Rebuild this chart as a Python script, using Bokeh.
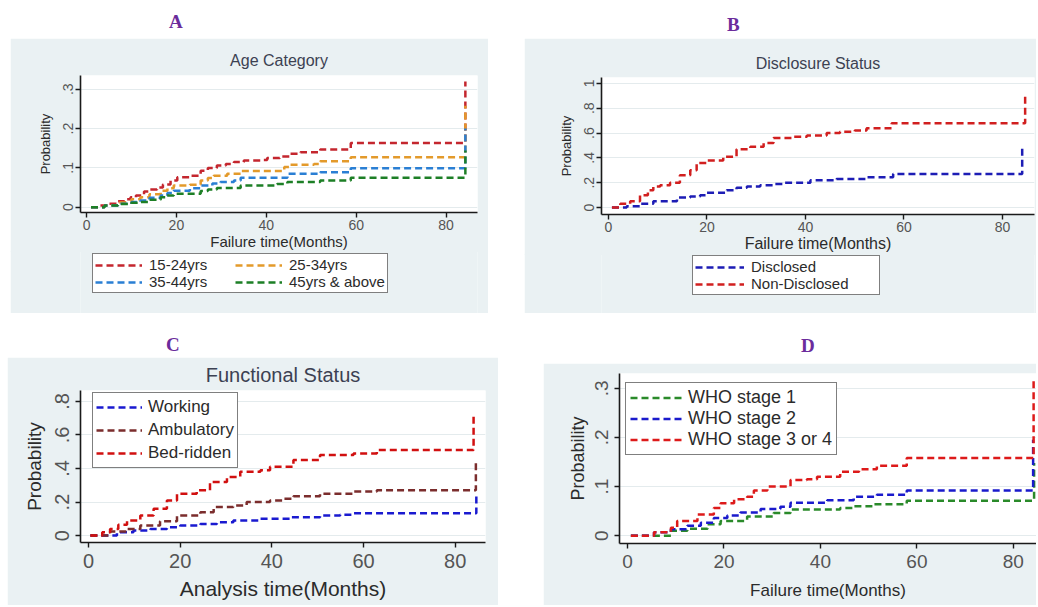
from bokeh.plotting import figure
from bokeh.models import Legend, LegendItem, FixedTicker, Div, Spacer, Range1d
from bokeh.layouts import row, column
from bokeh.embed import file_html
from bokeh.resources import INLINE

# ---------------- data ----------------
# Panel A: Age Category
a_labels = ["15-24yrs", "25-34yrs", "35-44yrs", "45yrs & above"]
a1_t = [1, 3, 5, 7, 8.5, 9.8, 11, 12.8, 14, 15.7, 17, 18.7, 20.2, 23, 25.4, 27, 29, 31, 32.8, 35, 38.7, 40.2, 43, 45.4, 47.6, 52, 58.8, 84.3]
a1_p = [0, .004, .009, .015, .02, .025, .03, .04, .045, .05, .058, .068, .076, .08, .093, .1, .106, .11, .115, .119, .12, .125, .129, .136, .14, .147, .163, .32]
a2_t = [1, 4, 7, 10, 12, 14, 16.5, 18, 19.4, 23, 25.4, 27, 28.3, 31.3, 34.3, 44, 45.4, 50.6, 52, 58.8, 84.3]
a2_p = [0, .005, .012, .02, .025, .033, .042, .048, .055, .057, .068, .074, .08, .085, .092, .102, .108, .11, .117, .127, .258]
a3_t = [1, 4, 7, 10, 12, 14, 16.5, 18, 19.4, 23, 25.4, 28, 29.8, 32.8, 34.3, 44.7, 52, 58.8, 84.3]
a3_p = [0, .004, .009, .013, .017, .024, .03, .036, .042, .048, .055, .06, .064, .068, .075, .085, .089, .099, .2]
a4_t = [1, 4, 7, 10, 12, 14, 16.5, 18, 19.4, 25.4, 27, 29, 34.3, 42.4, 44.7, 52, 58.8, 84.3]
a4_p = [0, .004, .008, .011, .013, .019, .025, .03, .034, .041, .045, .049, .055, .059, .064, .068, .075, .144]

# Panel B: Disclosure Status
b_labels = ["Disclosed", "Non-Disclosed"]
b1_t = [0.7, 3.7, 6.4, 9.1, 13.9, 16.6, 18.6, 20, 24, 26, 28.1, 30.8, 33.5, 35.5, 41, 46.3, 52.4, 57.8, 84]
b1_p = [0, .01, .03, .05, .08, .09, .10, .12, .14, .16, .17, .18, .19, .20, .22, .23, .245, .27, .50]
b2_t = [0.7, 2.4, 4.4, 6.4, 8, 9.1, 10.5, 12.5, 14.5, 16.6, 17.9, 20, 23.3, 26, 28.8, 31.5, 33.5, 37.5, 40.3, 44.3, 47, 50, 52.4, 57.5, 84.6]
b2_p = [0, .03, .05, .10, .14, .17, .18, .20, .26, .30, .36, .38, .41, .47, .49, .52, .56, .57, .58, .60, .61, .62, .64, .68, .92]

# Panel C: Functional Status
c_labels = ["Working", "Ambulatory", "Bed-ridden"]
c1_t = [0.4, 6.2, 9.8, 13.5, 17.1, 20, 24.4, 28, 31.6, 37.5, 44, 50.5, 54.9, 57.8, 84.6]
c1_p = [0, .02, .03, .04, .05, .06, .07, .08, .09, .10, .11, .12, .125, .133, .24]
c2_t = [0.4, 4.7, 8.4, 11.3, 15.6, 19.3, 24.4, 27.3, 31.6, 34.5, 39.6, 42.5, 44.7, 50.5, 57.8, 62.9, 84.5]
c2_p = [0, .024, .04, .06, .085, .12, .14, .17, .18, .20, .21, .22, .235, .25, .263, .27, .45]
c3_t = [0.4, 3, 4.7, 6.5, 8.4, 11.3, 14.2, 17.1, 19.3, 23.6, 26.5, 30.2, 33.1, 37.5, 39.6, 44.7, 50.5, 57.8, 62.9, 84]
c3_p = [0, .02, .04, .065, .09, .12, .16, .21, .25, .27, .32, .35, .38, .39, .41, .45, .48, .49, .51, .73]

# Panel D: WHO stage
d_labels = ["WHO stage 1", "WHO stage 2", "WHO stage 3 or 4"]
d1_t = [0.7, 9, 12.4, 16.6, 19.3, 24.8, 30.3, 33.8, 44.1, 46.9, 51, 57.9, 84.3]
d1_p = [0, .01, .014, .023, .03, .039, .046, .053, .056, .06, .064, .071, .148]
d2_t = [0.7, 5.5, 9, 12.4, 15.2, 17.9, 20.7, 23.4, 27.6, 31.7, 33.8, 41.4, 46.9, 51.7, 57.9, 84.1]
d2_p = [0, .007, .013, .02, .026, .036, .041, .047, .054, .059, .067, .072, .079, .083, .092, .195]
d3_t = [0.7, 5.5, 9, 10.3, 14.5, 17.9, 19.3, 22.1, 24.8, 26.2, 29, 33.8, 37.2, 39.3, 44.1, 48, 51.7, 57.9, 84.2]
d3_p = [0, .007, .016, .03, .043, .056, .066, .074, .079, .092, .10, .113, .115, .12, .13, .135, .142, .158, .316]

x_ticks = [0, 20, 40, 60, 80]
a_yticks = [0, 0.1, 0.2, 0.3]
a_ylabels = ["0", ".1", ".2", ".3"]
b_yticks = [0, 0.2, 0.4, 0.6, 0.8, 1]
b_ylabels = ["0", ".2", ".4", ".6", ".8", "1"]
c_yticks = [0, 0.2, 0.4, 0.6, 0.8]
c_ylabels = ["0", ".2", ".4", ".6", ".8"]
d_yticks = [0, 0.1, 0.2, 0.3]
d_ylabels = ["0", ".1", ".2", ".3"]

a_colors = ["#c4262e", "#e39a2b", "#2a7fd4", "#1d7f26"]
b_colors = ["#1d1db5", "#d11f1f"]
c_colors = ["#1a1ad0", "#7b2d2d", "#d11010"]
d_colors = ["#2a8a2a", "#1a1acc", "#dd1a1a"]

# ---------------- styling ----------------
BG = "#eaf1f3"
FONT = "Liberation Sans"
DASH = "7 4"
LW = 2.5


def style_legend(L, leg):
    if "ncols" in leg:
        L.ncols = leg["ncols"]
    L.orientation = leg.get("orientation", "vertical")
    L.border_line_color = "black"
    L.border_line_width = 1.5
    L.background_fill_color = "white"
    L.background_fill_alpha = 1
    L.label_text_font = FONT
    L.label_text_font_size = leg["font"]
    L.label_text_color = "#2b2b2b"
    L.glyph_width = leg["gw"]
    L.glyph_height = leg["lh"]
    L.label_height = leg["lh"]
    L.label_width = leg["lw"]
    L.label_standoff = leg.get("so", 6)
    L.spacing = leg["sp"]
    L.padding = leg["pad"]
    L.margin = 0


def make_panel(width, height, borders, xr, yr, yticks, ylabels, title, title_size,
               xlabel, xlabel_size, tick_size, ylabel_size, series, st, leg=None):
    kw = dict(width=width, height=height, output_backend="svg", toolbar_location=None,
              x_range=Range1d(*xr), y_range=Range1d(*yr),
              min_border_left=borders[0], min_border_right=borders[1],
              min_border_top=borders[2], min_border_bottom=borders[3])
    if title:
        kw["title"] = title
    p = figure(**kw)
    p.border_fill_color = BG
    p.background_fill_color = "white"
    p.outline_line_color = None
    if title:
        p.title.align = "center"
        p.title.text_font = FONT
        p.title.text_font_size = title_size
        p.title.text_font_style = "normal"
        p.title.text_color = "#3c4152"
        p.title.standoff = st["title"]
    p.xgrid.visible = False
    p.ygrid.grid_line_color = "#e4ebed"
    p.ygrid.grid_line_width = 1
    p.xaxis.ticker = FixedTicker(ticks=x_ticks)
    p.yaxis.ticker = FixedTicker(ticks=yticks)
    p.yaxis.major_label_overrides = {v: s for v, s in zip(yticks, ylabels)}
    p.yaxis.major_label_orientation = "parallel"
    for ax in (p.xaxis[0], p.yaxis[0]):
        ax.axis_line_color = "#1a1a1a"
        ax.axis_line_width = 1.6
        ax.major_tick_line_color = "#1a1a1a"
        ax.major_tick_line_width = 1.4
        ax.major_tick_out = 5
        ax.major_tick_in = 0
        ax.minor_tick_line_color = None
        ax.major_label_text_font = FONT
        ax.major_label_text_font_size = tick_size
        ax.major_label_text_color = "#555555"
        ax.major_label_standoff = st["tick"]
        ax.axis_label_text_font = FONT
        ax.axis_label_text_font_style = "normal"
        ax.axis_label_text_color = "#2b2b2b"
    p.xaxis.axis_label = xlabel
    p.xaxis.axis_label_text_font_size = xlabel_size
    p.xaxis.axis_label_standoff = st["xlab"]
    p.yaxis.axis_label = "Probability"
    p.yaxis.axis_label_text_font_size = ylabel_size
    p.yaxis.axis_label_standoff = st["ylab"]

    items = {}
    for t, v, color, label in series:
        r = p.step(t, v, mode="after", line_color=color, line_width=LW, line_dash=DASH)
        items[label] = LegendItem(label=label, renderers=[r])
    if leg is not None:
        L = Legend(items=[items[k] for k in leg["order"]], location=leg["loc"])
        style_legend(L, leg)
        p.add_layout(L)
    return p


def make_legend_fig(width, height, series, leg):
    # legend strip below a panel; its lines reuse the series data but lie outside
    # the strip's x range, so only the legend keys show
    q = figure(width=width, height=height, output_backend="svg", toolbar_location=None,
               x_range=Range1d(-30, -20), y_range=Range1d(0, 1),
               min_border_left=0, min_border_right=0, min_border_top=0, min_border_bottom=0,
               x_axis_location=None, y_axis_location=None, margin=(-2, 0, 0, 0))
    q.border_fill_color = BG
    q.background_fill_color = BG
    q.outline_line_color = None
    q.xgrid.visible = False
    q.ygrid.visible = False
    items = {}
    for t, v, color, label in series:
        r = q.step(t, v, mode="after", line_color=color, line_width=LW, line_dash=DASH)
        items[label] = LegendItem(label=label, renderers=[r])
    L = Legend(items=[items[k] for k in leg["order"]], location=leg["loc"])
    style_legend(L, leg)
    q.add_layout(L)
    return q


a_series = [(a1_t, a1_p, a_colors[0], a_labels[0]), (a2_t, a2_p, a_colors[1], a_labels[1]),
            (a3_t, a3_p, a_colors[2], a_labels[2]), (a4_t, a4_p, a_colors[3], a_labels[3])]
b_series = [(b1_t, b1_p, b_colors[0], b_labels[0]), (b2_t, b2_p, b_colors[1], b_labels[1])]

pA = make_panel(478, 214, (70, 11, 37, 40), (-1.34, 87.0), (-0.0135, 0.335),
                a_yticks, a_ylabels, "Age Category", "16px", "Failure time(Months)", "15px",
                "14px", "13px", a_series, dict(title=13, tick=2, xlab=0, ylab=8))
qA = make_legend_fig(478, 63, a_series,
                     dict(order=a_labels, loc=(12, 20), orientation="horizontal", ncols=2,
                          font="15px", gw=47, lh=16, lw=86, sp=0, pad=2, so=7))

pB = make_panel(512, 217, (77, 2, 39, 41), (-1.42, 86.5), (-0.056, 1.048),
                b_yticks, b_ylabels, "Disclosure Status", "16px", "Failure time(Months)", "16px",
                "14px", "13px", b_series, dict(title=12, tick=2, xlab=0, ylab=8))
qB = make_legend_fig(512, 60, b_series,
                     dict(order=b_labels, loc=(91, 18), font="15px", gw=49, lh=16, lw=126,
                          sp=0, pad=2, so=7))

pC = make_panel(491, 248, (73, 13, 33, 63), (-1.75, 86.6), (-0.041, 0.865),
                c_yticks, c_ylabels, "Functional Status", "20px", "Analysis time(Months)", "21px",
                "20px", "19px",
                [(c1_t, c1_p, c_colors[0], c_labels[0]), (c2_t, c2_p, c_colors[1], c_labels[1]),
                 (c3_t, c3_p, c_colors[2], c_labels[2])],
                dict(title=9, tick=6, xlab=6, ylab=8),
                dict(order=c_labels, loc=(12, 74), font="17px", gw=46, lh=22, lw=60, sp=1, pad=3))

pD = make_panel(493, 242, (76, 0, 10, 62), (-1.66, 84.8), (-0.016, 0.33),
                d_yticks, d_ylabels, None, None, "Failure time(Months)", "17px",
                "19px", "18px",
                [(d1_t, d1_p, d_colors[0], d_labels[0]), (d2_t, d2_p, d_colors[1], d_labels[1]),
                 (d3_t, d3_p, d_colors[2], d_labels[2])],
                dict(title=0, tick=6, xlab=10, ylab=5),
                dict(order=d_labels, loc=(6, 88), font="18px", gw=52, lh=21, lw=60, sp=0, pad=4))

LET = ("position:absolute;font-family:'Liberation Serif',serif;font-weight:bold;"
       "color:#6b2c9c;font-size:19px;line-height:19px;")
top_div = Div(width=1036, height=38, margin=0, text=(
    '<div style="position:relative;width:1036px;height:38px;">'
    f'<span style="{LET}left:169px;top:12px;">A</span>'
    f'<span style="{LET}left:727px;top:15px;">B</span></div>'))
mid_div = Div(width=1036, height=44, margin=0, text=(
    '<div style="position:relative;width:1036px;height:44px;">'
    f'<span style="{LET}left:166px;top:22px;">C</span>'
    f'<span style="{LET}left:801px;top:23px;">D</span></div>'))

layout = column(
    top_div,
    row(Spacer(width=10, height=275, margin=0), column(pA, qA),
        Spacer(width=36, height=275, margin=0), column(pB, qB)),
    mid_div,
    row(Spacer(width=7, height=248, margin=0), pC, Spacer(width=45, height=248, margin=0),
        column(Spacer(width=493, height=6, margin=0), pD)),
)

open("out.html", "w").write(file_html(layout, INLINE))
